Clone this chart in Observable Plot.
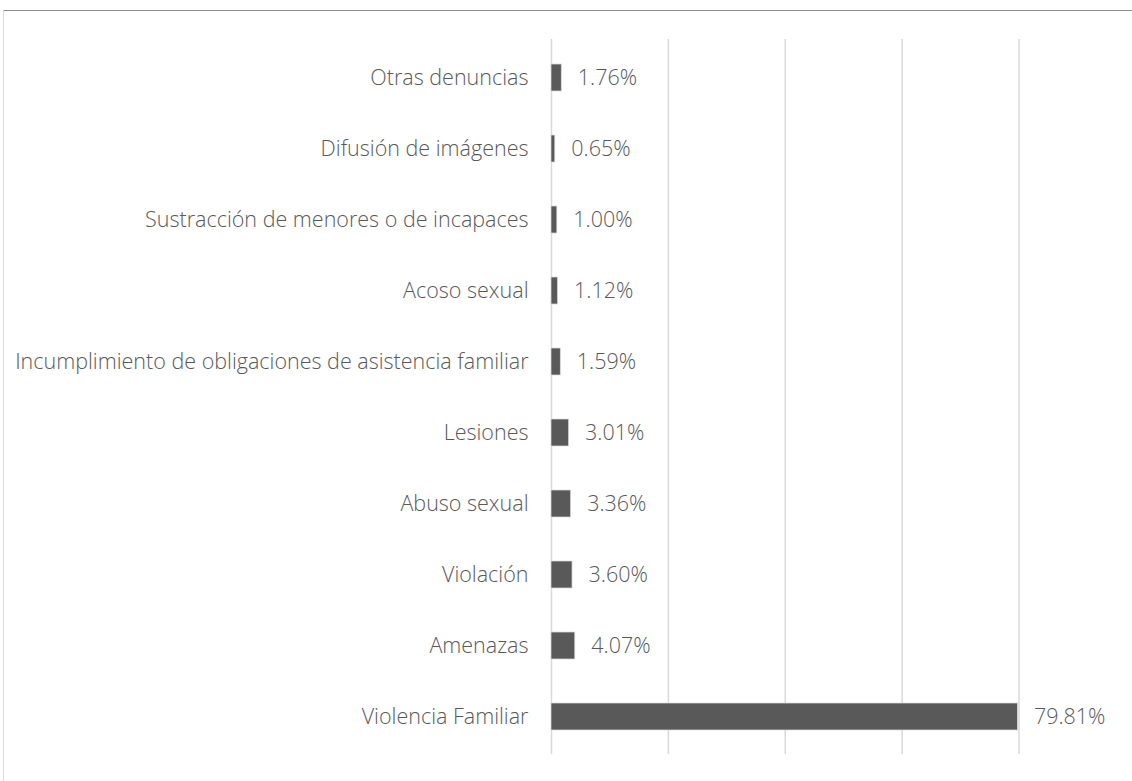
<!DOCTYPE html>
<html>
<head>
<meta charset="utf-8">
<script src="https://cdn.jsdelivr.net/npm/d3@7"></script>
<script src="https://cdn.jsdelivr.net/npm/@observablehq/plot@0.6"></script>
<style>
  html, body { margin: 0; padding: 0; background: #fff; }
  #wrap { position: relative; width: 1132px; height: 781px; overflow: hidden; }
  #topline { position: absolute; left: 4px; top: 10px; width: 1128px; height: 0; border-top: 1.5px solid #8c8c8c; }
  #leftline { position: absolute; left: 3px; top: 10px; width: 0; height: 771px; border-left: 1.5px solid #d9d9d9; }
  #chart { position: absolute; left: 0; top: 0; }
</style>
</head>
<body>
<div id="wrap">
  <div id="chart"></div>
  <div id="topline"></div>
  <div id="leftline"></div>
</div>
<script>
const categories = [
  "Otras denuncias",
  "Difusión de imágenes",
  "Sustracción de menores o de incapaces",
  "Acoso sexual",
  "Incumplimiento de obligaciones de asistencia familiar",
  "Lesiones",
  "Abuso sexual",
  "Violación",
  "Amenazas",
  "Violencia Familiar"
];
const values = [1.76, 0.65, 1.00, 1.12, 1.59, 3.01, 3.36, 3.60, 4.07, 79.81];
const gridTicks = [0, 20, 40, 60, 80];

const data = categories.map((c, i) => ({cat: c, value: values[i]}));

const chart = Plot.plot({
  width: 1132,
  height: 781,
  marginLeft: 551,
  marginRight: 113.5,
  marginTop: 39,
  marginBottom: 27,
  style: {fontFamily: "'Open Sans', 'Noto Sans', sans-serif", fontWeight: 300, color: "#595959", background: "transparent"},
  x: {domain: [0, 80], axis: null},
  y: {domain: categories, paddingInner: 0.62, paddingOuter: 0.31, label: null},
  marks: [
    Plot.ruleX(gridTicks, {stroke: "#d9d9d9", strokeWidth: 1.5}),
    Plot.barX(data, {x: "value", y: "cat", fill: "#595959", stroke: "#d9d9d9", strokeWidth: 0.75}),
    Plot.text(data, {x: "value", y: "cat", text: d => d.value.toFixed(2) + "%", dx: 16, textAnchor: "start", fontSize: 21.5, fill: "#595959"}),
    Plot.axisY({tickSize: 0, tickPadding: 23, fontSize: 21.5, label: null, fill: "#595959"})
  ]
});
document.getElementById("chart").appendChild(chart);
</script>
</body>
</html>
